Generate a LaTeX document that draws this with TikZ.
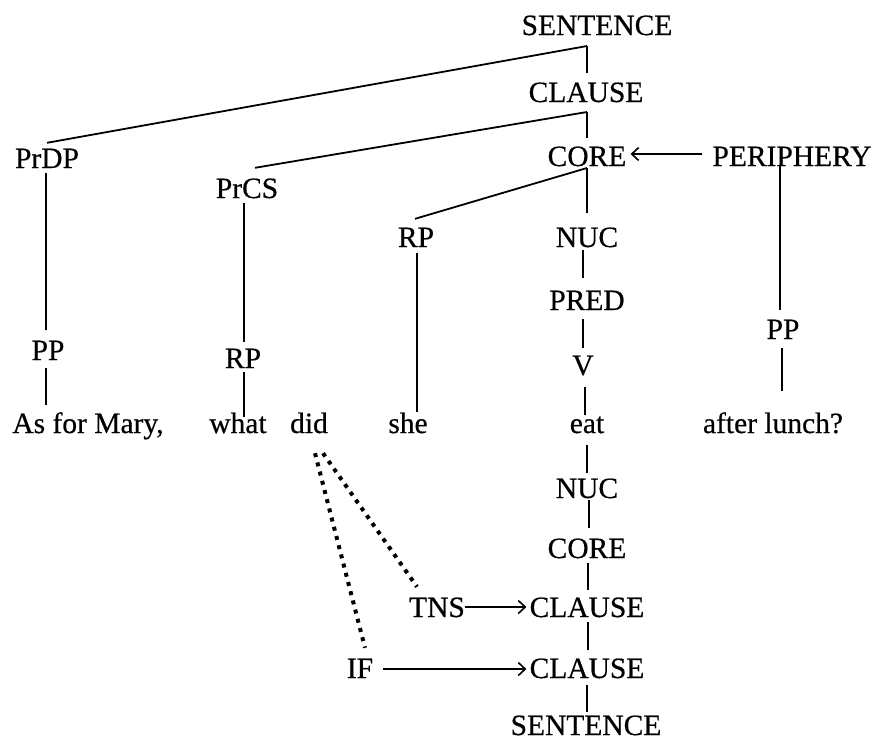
\documentclass[tikz,border=0pt]{standalone}
\usepackage{fontspec}
\setmainfont{Liberation Serif}[FakeBold=0.5]
\usetikzlibrary{arrows.meta,calc}
\begin{document}
\begin{tikzpicture}[x=1pt,y=-1pt,
  lbl/.style={inner sep=0pt,text height=20pt,text depth=0pt,font=\fontsize{29.5}{30}\selectfont},
  edge/.style={line width=1.8pt},
  arr/.style={line width=1.8pt,-{Straight Barb[length=7pt,width=13pt,line width=1.6pt]}},
  dots/.style={line width=4pt,dash pattern=on 4pt off 5.5pt}]
\useasboundingbox (0,0) rectangle (875,740);
% nodes
\node[lbl] (s1) at (597,25) {SENTENCE};
\node[lbl] (cl1) at (586,92) {CLAUSE};
\node[lbl] (core1) at (587,156) {CORE};
\node[lbl] (peri) at (792,156) {PERIPHERY};
\node[lbl] (prdp) at (47,158) {PrDP};
\node[lbl] (prcs) at (247,188) {PrCS};
\node[lbl] (rp1) at (416,237) {RP};
\node[lbl] (nuc1) at (587,237) {NUC};
\node[lbl] (pred) at (587,300) {PRED};
\node[lbl] (pp1) at (48,350) {PP};
\node[lbl] (rp2) at (243,358) {RP};
\node[lbl] (v) at (583,365) {V};
\node[lbl] (pp2) at (783,329) {PP};
\node[lbl] (asfor) at (88,423) {As for Mary,};
\node[lbl] (what) at (238,423) {what};
\node[lbl] (did) at (309,423) {did};
\node[lbl] (she) at (408,423) {she};
\node[lbl] (eat) at (587,423) {eat};
\node[lbl] (after) at (773,423) {after lunch?};
\node[lbl] (nuc2) at (587,488) {NUC};
\node[lbl] (core2) at (587,548) {CORE};
\node[lbl] (cl2) at (587,607) {CLAUSE};
\node[lbl] (tns) at (437,607) {TNS};
\node[lbl] (cl3) at (587,668) {CLAUSE};
\node[lbl] (if) at (360,668) {IF};
\node[lbl] (s2) at (586,725) {SENTENCE};
% junctions
\coordinate (j1) at (587,46);
\coordinate (j2) at (587,112);
\coordinate (j3) at (587,168);
% edges
\draw[edge] (j1) -- ($(cl1.north)+(1,-9)$);
\draw[edge] (j1) -- ($(prdp.north)+(0,-5)$);
\draw[edge] (j2) -- ($(core1.north)+(0,-8)$);
\draw[edge] (j2) -- ($(prcs.north)+(8,-10)$);
\draw[edge] (j3) -- ($(nuc1.north)+(0,-14)$);
\draw[edge] (j3) -- ($(rp1.north)+(-1,-8)$);
\draw[arr] ($(peri.west)+(-10,-2)$) -- ($(core1.east)+(4,-2)$);
\draw[edge] ($(peri.south)+(-12,0)$) -- ($(pp2.north)+(-3,-9)$);
\draw[edge] ($(pp2.south)+(-1,9)$) -- ($(after.north)+(9,-22)$);
\draw[edge] ($(prdp.south)+(-1,5)$) -- ($(pp1.north)+(-2,-10)$);
\draw[edge] ($(pp1.south)+(-2,8)$) -- ($(pp1.south |- asfor.north)+(-2,-8)$);
\draw[edge] ($(prcs.south)+(-3,5)$) -- ($(rp2.north)+(1,-6)$);
\draw[edge] ($(rp2.south)+(1,4)$) -- ($(what.north)+(6,4)$);
\draw[edge] ($(rp1.south)+(1,6)$) -- ($(she.north)+(9,-1)$);
\draw[edge] ($(nuc1.south)+(-4,3)$) -- ($(pred.north)+(-4,-12)$);
\draw[edge] ($(pred.south)+(-4,9)$) -- ($(v.north)+(0,-7)$);
\draw[edge] ($(v.south)+(2,12)$) -- ($(eat.north)+(-2,2)$);
\draw[edge] ($(eat.south)+(0,12)$) -- ($(nuc2.north)+(0,-5)$);
\draw[edge] ($(nuc2.south)+(2,2)$) -- ($(core2.north)+(2,-10)$);
\draw[edge] ($(core2.south)+(1,5)$) -- ($(cl2.north)+(1,-7)$);
\draw[edge] ($(cl2.south)+(1,5)$) -- ($(cl3.north)+(1,-8)$);
\draw[edge] ($(cl3.south)+(0,7)$) -- ($(s2.north)+(1,-3)$);
\draw[arr] (tns.east) -- ($(cl2.west)+(-3,0)$);
\draw[arr] ($(if.east)+(10,1)$) -- ($(cl3.west)+(-3,1)$);
\draw[dots] ($(did.south)+(14,20)$) -- ($(tns.north)+(-20,-10)$);
\draw[dots] ($(did.south)+(6,20)$) -- ($(if.north)+(5,-10)$);
\end{tikzpicture}
\end{document}
